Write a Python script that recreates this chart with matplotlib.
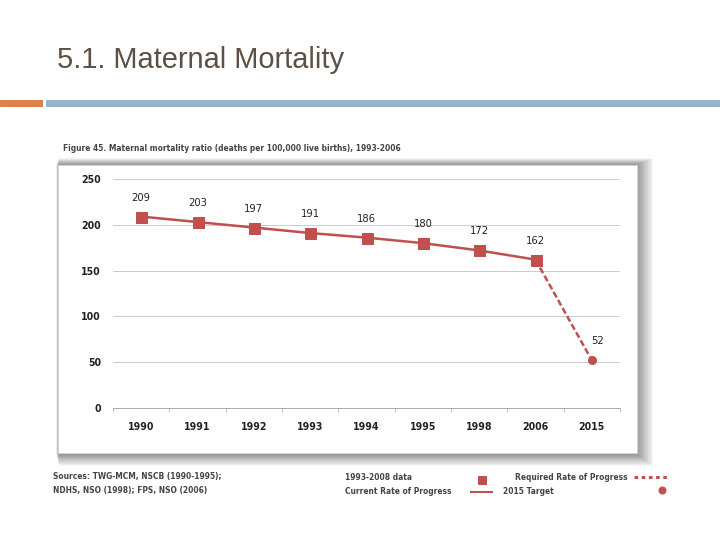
import numpy as np
import matplotlib.pyplot as plt
from matplotlib.patches import Rectangle

years = ['1990', '1991', '1992', '1993', '1994', '1995', '1998', '2006', '2015']
actual = [209, 203, 197, 191, 186, 180, 172, 162]
target = 52
yticks = [0, 50, 100, 150, 200, 250]

red = '#c0504d'
W, H = 720, 540

fig = plt.figure(figsize=(10, 7.5), dpi=72)

def fx(px):
    return px / W

def fy(py):
    return 1 - py / H

# slide title and header bars
fig.text(fx(57), fy(60), '5.1. Maternal Mortality', fontsize=29, color='#5e5044',
         va='center', ha='left', family='Liberation Sans')
fig.patches.append(Rectangle((0, fy(106)), fx(42), 6 / H, transform=fig.transFigure,
                             color='#e07f4a', zorder=1))
fig.patches.append(Rectangle((fx(46), fy(106)), 1 - fx(46), 6 / H, transform=fig.transFigure,
                             color='#94b5d0', zorder=1))

# caption
fig.text(fx(63), fy(148), 'Figure 45. Maternal mortality ratio (deaths per 100,000 live births), 1993-2006',
         fontsize=7.5, color='#444444', fontweight='bold', va='center', ha='left',
         family='Liberation Sans Narrow')

# panel with soft shadow
bx0, by0, bx1, by1 = 58, 165, 637, 453
for i in range(14, 0, -1):
    fig.patches.append(Rectangle((fx(bx0 - 2 + i * 0.2), fy(by1 + i * 0.9)), fx(bx1 - bx0 + i * 1.1),
                                 (by1 - by0 + i * 1.4) / H, transform=fig.transFigure,
                                 color='black', alpha=0.035, zorder=2, lw=0))
fig.patches.append(Rectangle((fx(bx0), fy(by1)), fx(bx1 - bx0), (by1 - by0) / H,
                             transform=fig.transFigure, facecolor='white',
                             edgecolor='#d8d8d8', lw=0.8, zorder=3))

ax = fig.add_axes([fx(113), fy(408), fx(620 - 113), (408 - 179) / H], zorder=4)
ax.patch.set_alpha(0)
x = np.arange(len(years))
ax.plot(x[:len(actual)], actual, color=red, lw=2.5, marker='s', ms=11,
        markerfacecolor=red, markeredgecolor=red, zorder=5)
ax.plot([x[len(actual) - 1], x[-1]], [actual[-1], target], color=red, lw=2.5,
        ls=(0, (2.5, 1.2)), zorder=4)
ax.plot(x[-1], target, 'o', color=red, ms=8, zorder=5)

for xi, v in zip(x, actual + [target]):
    dx = 0.1 if xi == x[-1] else 0
    ax.annotate(str(v), (xi + dx, v), xytext=(0, 14), textcoords='offset points',
                ha='center', va='bottom', fontsize=10, color='#222222')

ax.set_xlim(-0.5, len(years) - 0.5)
ax.set_ylim(0, 250)
ax.set_yticks(yticks)
ax.yaxis.grid(True, color='#c8c8c8', lw=0.9)
ax.set_axisbelow(True)
for s in ['top', 'right', 'left']:
    ax.spines[s].set_visible(False)
ax.spines['bottom'].set_color('#999999')
ax.tick_params(axis='y', length=0, pad=12, labelsize=9.5, labelcolor='#222222')
ax.set_xticks(x)
ax.set_xticklabels(years, fontsize=9.5, color='#222222', fontweight='bold')
ax.set_xticks(np.arange(-0.5, len(years)), minor=True)
ax.tick_params(axis='x', which='major', length=0, pad=14)
ax.tick_params(axis='x', which='minor', length=4, color='#999999')
for lbl in ax.get_yticklabels():
    lbl.set_fontweight('bold')

# footer legend
ft = dict(fontsize=7.5, color='#444444', va='center', ha='left', fontweight='bold',
          family='Liberation Sans Narrow')
fig.text(fx(53), fy(477), 'Sources: TWG-MCM, NSCB (1990-1995);', **ft)
fig.text(fx(53), fy(491), 'NDHS, NSO (1998); FPS, NSO (2006)', **ft)
fig.text(fx(345), fy(477), '1993-2008 data', **ft)
fig.text(fx(345), fy(491), 'Current Rate of Progress', **ft)
fig.text(fx(515), fy(477), 'Required Rate of Progress', **ft)
fig.text(fx(503), fy(491), '2015 Target', **ft)
leg = fig.add_axes([0, 0, 1, 1], zorder=6)
leg.set_xlim(0, W)
leg.set_ylim(H, 0)
leg.axis('off')
leg.plot(482, 480, 's', color=red, ms=8)
leg.plot([471, 492], [492, 492], color=red, lw=2)
leg.plot([634, 670], [477, 477], color=red, lw=3, ls=(0, (1.2, 1.2)))
leg.plot(662, 490, 'o', color=red, ms=7)

fig.savefig('out.png', dpi=72)
